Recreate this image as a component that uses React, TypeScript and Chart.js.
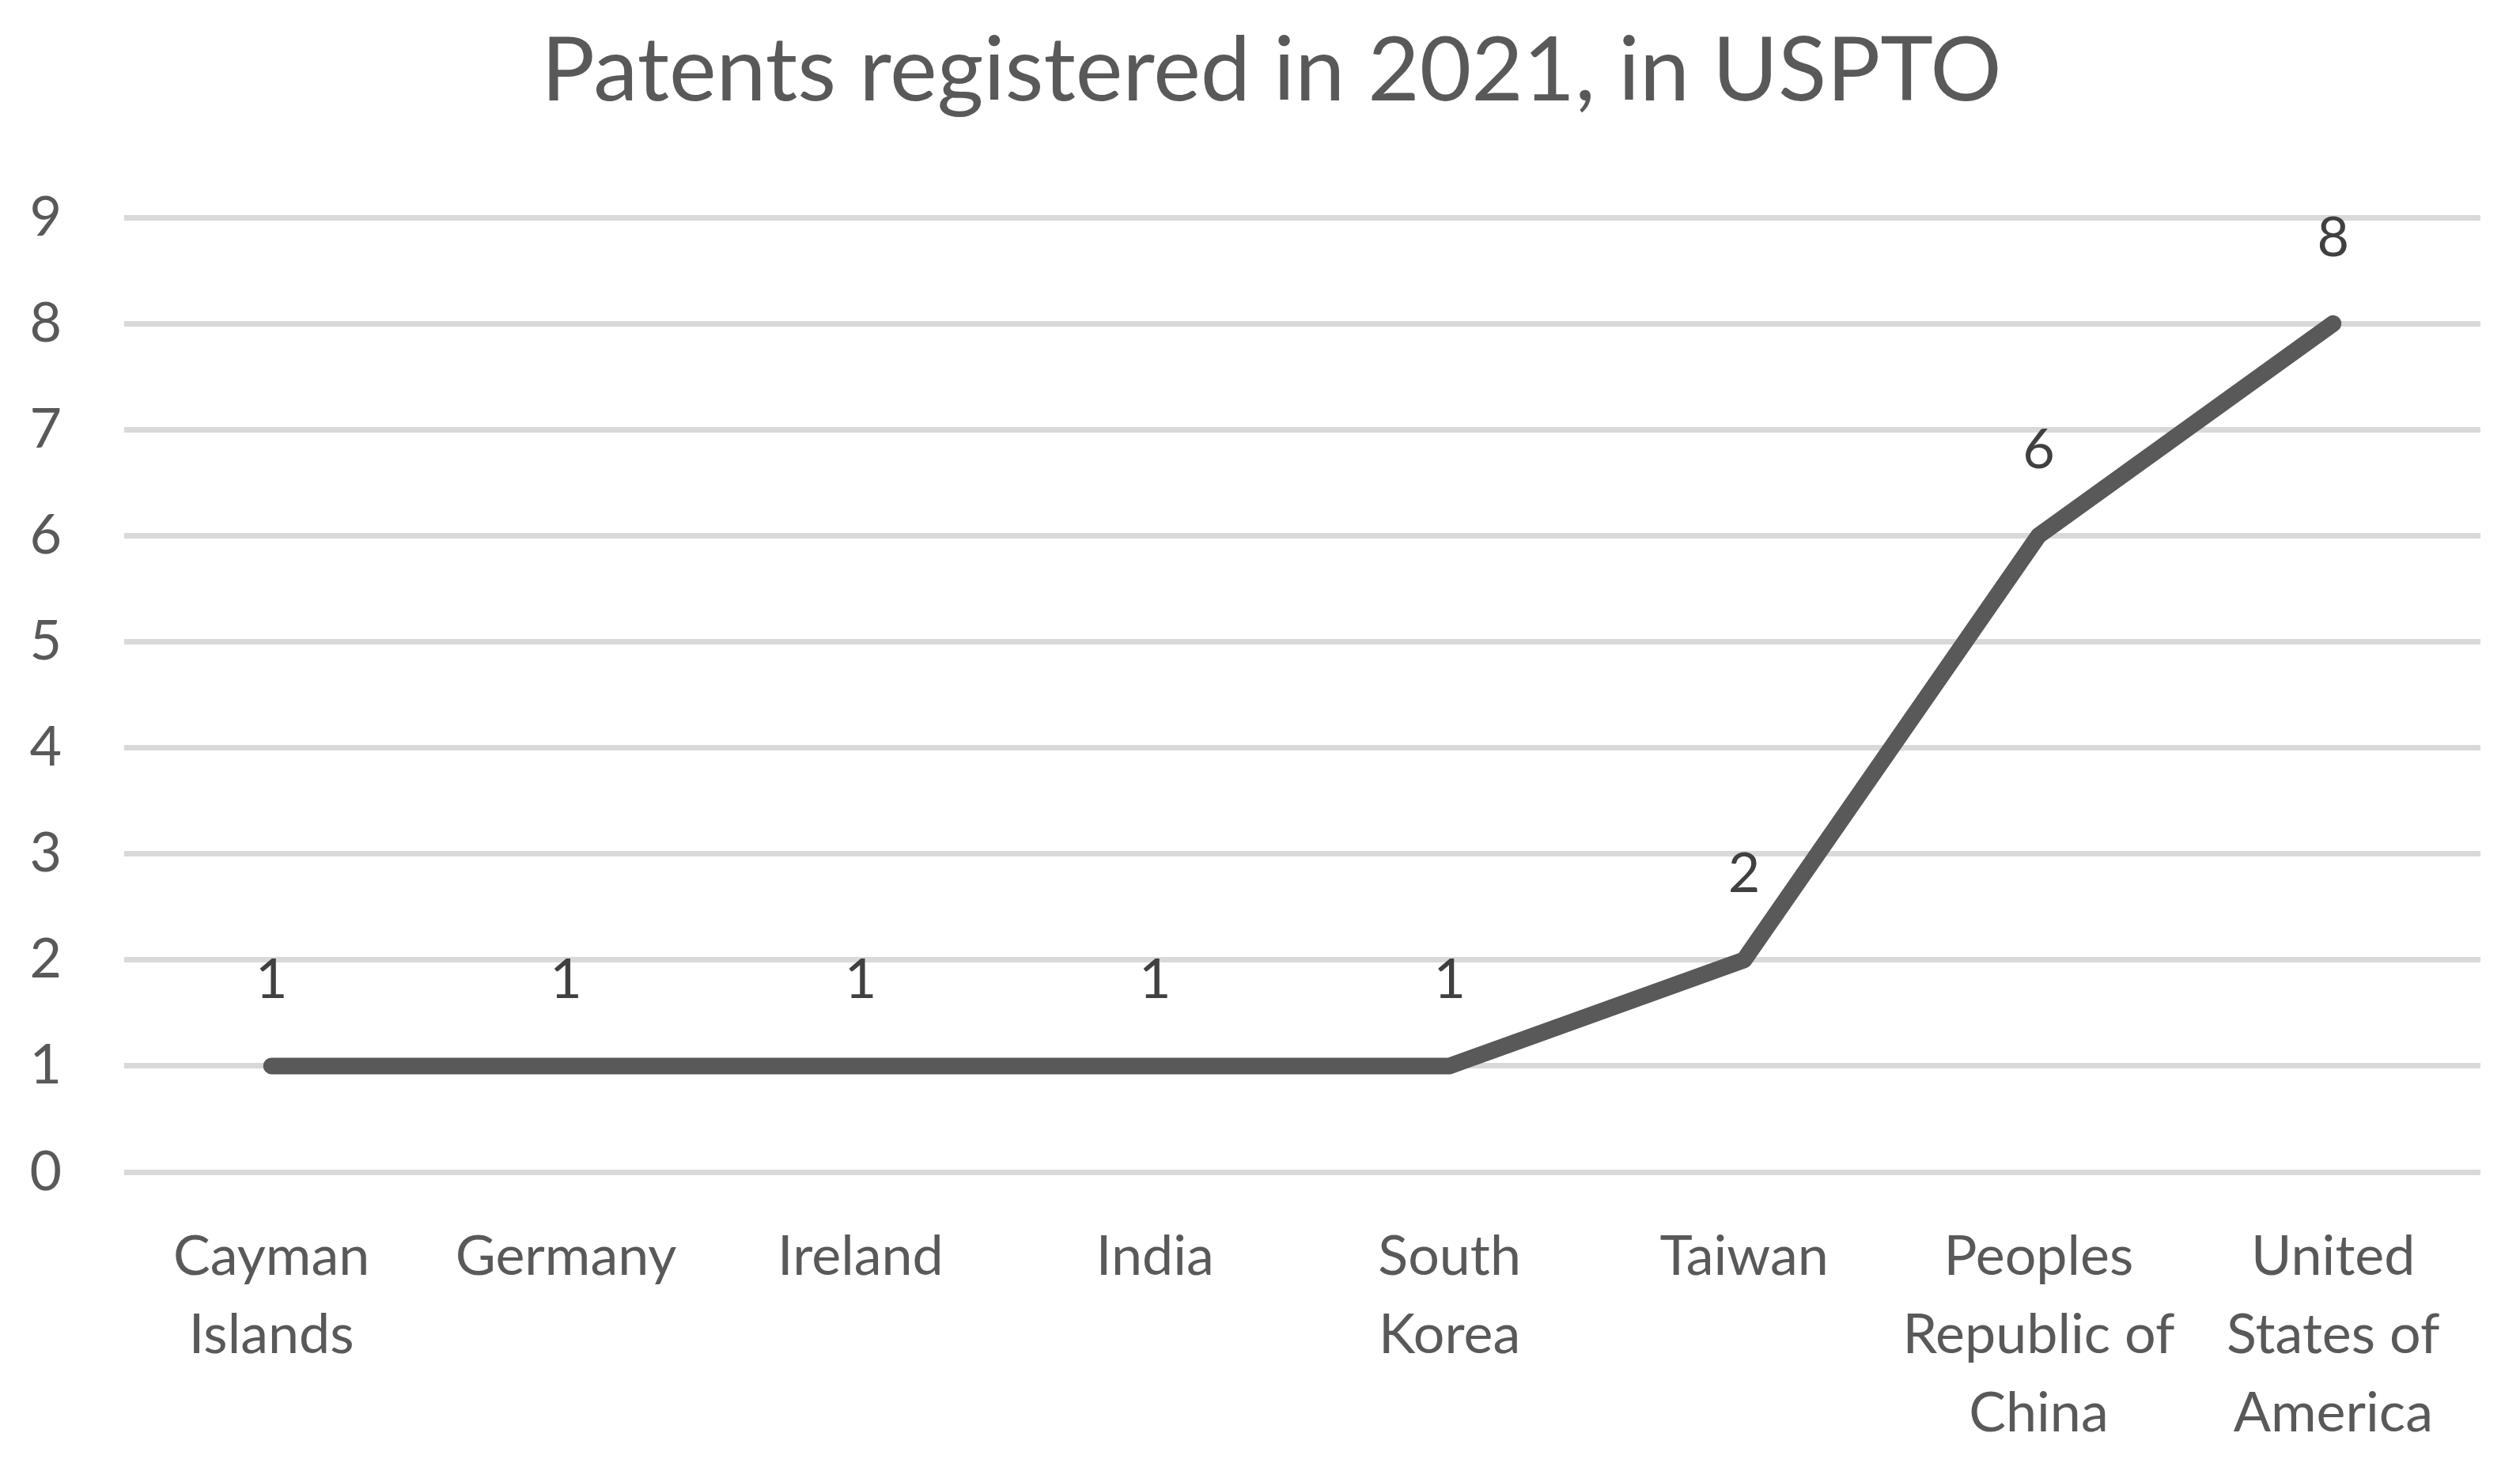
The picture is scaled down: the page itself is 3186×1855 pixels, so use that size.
import React, { useEffect, useRef } from "react";
import { Chart, registerables } from "chart.js";

Chart.register(...registerables);

const TITLE = "Patents registered in 2021, in USPTO";
const categories: string[][] = [
  ["Cayman", "Islands"],
  ["Germany"],
  ["Ireland"],
  ["India"],
  ["South", "Korea"],
  ["Taiwan"],
  ["Peoples", "Republic of", "China"],
  ["United", "States of", "America"],
];
const patents: number[] = [1, 1, 1, 1, 1, 2, 6, 8];
const yTicks: number[] = [0, 1, 2, 3, 4, 5, 6, 7, 8, 9];

const FONT = "Lato, 'Open Sans', sans-serif";

const valueLabels = {
  id: "valueLabels",
  afterDatasetsDraw(chart: any) {
    const ctx = chart.ctx;
    const meta = chart.getDatasetMeta(0);
    const data = chart.data.datasets[0].data as number[];
    ctx.save();
    ctx.font = `70px ${FONT}`;
    ctx.fillStyle = "#404040";
    ctx.textAlign = "center";
    ctx.textBaseline = "middle";
    meta.data.forEach((pt: any, i: number) => {
      ctx.fillText(String(data[i]), pt.x, pt.y - 108);
    });
    ctx.restore();
  },
};

const titlePlugin = {
  id: "offsetTitle",
  afterDraw(chart: any) {
    const ctx = chart.ctx;
    const area = chart.chartArea;
    ctx.save();
    ctx.font = `113px ${FONT}`;
    ctx.fillStyle = "#595959";
    ctx.textAlign = "center";
    ctx.textBaseline = "middle";
    // centred slightly left of the plot-area centre, as in the original
    ctx.fillText(TITLE, (area.left + area.right) / 2 - 39, area.top - 184);
    ctx.restore();
  },
};

export default function App() {
  const canvasRef = useRef<HTMLCanvasElement | null>(null);

  useEffect(() => {
    document.body.style.margin = "0";
    const canvas = canvasRef.current;
    if (!canvas) return;
    const chart = new Chart(canvas, {
      type: "line",
      data: {
        labels: categories,
        datasets: [
          {
            data: patents,
            borderColor: "#595959",
            backgroundColor: "#595959",
            borderWidth: 21,
            borderCapStyle: "round",
            borderJoinStyle: "round",
            pointRadius: 0,
            tension: 0,
            fill: false,
          },
        ],
      },
      options: {
        animation: false,
        responsive: true,
        maintainAspectRatio: false,
        layout: { padding: { left: 0, right: 50, top: 275, bottom: 0 } },
        plugins: {
          legend: { display: false },
          tooltip: { enabled: false },
          title: { display: false },
        },
        scales: {
          x: {
            offset: true,
            grid: { display: false, drawTicks: false },
            border: { display: false },
            ticks: {
              color: "#595959",
              font: { family: FONT, size: 70, lineHeight: 1.414 },
              padding: 58,
              maxRotation: 0,
              autoSkip: false,
            },
            afterFit(scale: any) {
              scale.height = 373;
            },
          },
          y: {
            min: 0,
            max: 9,
            afterBuildTicks(scale: any) {
              scale.ticks = yTicks.map((v) => ({ value: v }));
            },
            grid: { color: "#d9d9d9", lineWidth: 7, drawTicks: false },
            border: { display: false },
            ticks: {
              color: "#595959",
              font: { family: FONT, size: 70 },
              padding: 79,
            },
            afterFit(scale: any) {
              scale.width = 157;
            },
          },
        },
      },
      plugins: [valueLabels, titlePlugin],
    });
    return () => chart.destroy();
  }, []);

  return (
    <div
      style={{
        position: "absolute",
        left: 0,
        top: 0,
        width: "3186px",
        height: "1855px",
        background: "#ffffff",
      }}
    >
      <canvas ref={canvasRef} />
    </div>
  );
}
